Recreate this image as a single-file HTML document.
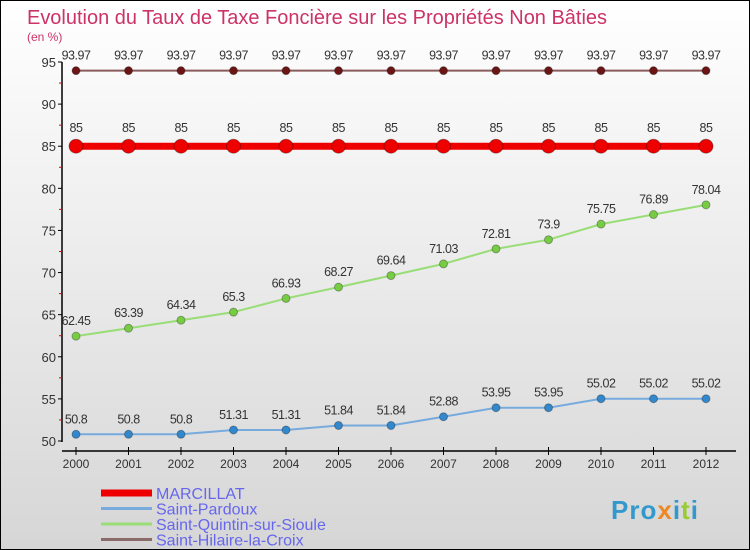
<!DOCTYPE html>
<html><head><meta charset="utf-8"><style>
body{margin:0}
#c{position:relative;width:750px;height:550px;box-sizing:border-box;border:1px solid #000;background:linear-gradient(#fff,#d6d6d6);font-family:"Liberation Sans",sans-serif;overflow:hidden}
svg{position:absolute;left:0;top:0}
</style></head><body>
<div id="c">
<svg id="s" width="750" height="550">
<text x="26" y="23" font-size="20" fill="#cc3366" textLength="580" lengthAdjust="spacingAndGlyphs">Evolution du Taux de Taxe Foncière sur les Propriétés Non Bâties</text>
<text x="26" y="40" font-size="12" fill="#cc3366">(en %)</text>
</svg>
</div>
<script>
const years=["2000","2001","2002","2003","2004","2005","2006","2007","2008","2009","2010","2011","2012"];
const yTicks=[50,55,60,65,70,75,80,85,90,95];
const marcillat=[85,85,85,85,85,85,85,85,85,85,85,85,85];
const pardoux=[50.8,50.8,50.8,51.31,51.31,51.84,51.84,52.88,53.95,53.95,55.02,55.02,55.02];
const quintin=[62.45,63.39,64.34,65.3,66.93,68.27,69.64,71.03,72.81,73.9,75.75,76.89,78.04];
const hilaire=[93.97,93.97,93.97,93.97,93.97,93.97,93.97,93.97,93.97,93.97,93.97,93.97,93.97];
const series=[
 {name:"Saint-Hilaire-la-Croix",v:hilaire,c:"#8b5a5a",p:"#6b1515",w:2,r:4},
 {name:"Saint-Quintin-sur-Sioule",v:quintin,c:"#99dd77",p:"#77cc44",w:2,r:4},
 {name:"Saint-Pardoux",v:pardoux,c:"#77aadd",p:"#3388cc",w:2,r:4},
 {name:"MARCILLAT",v:marcillat,c:"#ee0000",p:"#ee0000",w:7,r:7}
];
const ns="http://www.w3.org/2000/svg",s=document.getElementById('s');
const X=i=>75+52.5*i, Y=v=>440-(v-50)*379/45;
function mk(t,a,p){const e=document.createElementNS(ns,t);for(const k in a)e.setAttribute(k,a[k]);(p||s).appendChild(e);return e;}
let e=mk('line',{x1:61,y1:61,x2:61,y2:441,stroke:'#000','stroke-width':1.5});


e=mk('line',{x1:61,y1:450,x2:735,y2:450,stroke:'#000','stroke-width':1.5});


yTicks.forEach((v,i)=>{
 mk('line',{x1:57,y1:Y(v),x2:61,y2:Y(v),stroke:'#000'});
 if(i<yTicks.length-1)mk('line',{x1:58,y1:Y(v+2.5),x2:61,y2:Y(v+2.5),stroke:'#e00000'});
 const t=mk('text',{x:55,y:Y(v)+5,'font-size':13,'text-anchor':'end',fill:'#333'});t.textContent=v;
 
 
});
years.forEach((y,i)=>{
 mk('line',{x1:X(i),y1:446,x2:X(i),y2:454,stroke:'#000'});
 const t=mk('text',{x:X(i),y:467,'font-size':12,'text-anchor':'middle',fill:'#333'});t.textContent=y;
 
 
});
series.forEach(se=>{
 const l=mk('polyline',{points:se.v.map((v,i)=>X(i)+','+Y(v)).join(' '),fill:'none',stroke:se.c,'stroke-width':se.w});
 
 
 se.v.forEach((v,i)=>{
  const c=mk('circle',{cx:X(i),cy:Y(v),r:se.r,fill:se.p,stroke:'rgba(0,0,0,0.3)'});
  
  
  const t=mk('text',{x:X(i),y:Y(v)-(se.r+7),'font-size':12.5,'text-anchor':'middle',fill:'#333','letter-spacing':'-0.5'});
  t.textContent=v;
  
  
 });
});
const leg=[["MARCILLAT","#ee0000",7],["Saint-Pardoux","#77aadd",3],["Saint-Quintin-sur-Sioule","#99dd77",3],["Saint-Hilaire-la-Croix","#8b6a6a",3]];
leg.forEach((l,i)=>{
 const y=492+i*15.5;
 mk('line',{x1:100,y1:y,x2:151,y2:y,stroke:l[1],'stroke-width':l[2]});
 const t=mk('text',{x:155,y:y+6,'font-size':16,fill:'#6666ee'});t.textContent=l[0];
 
 
});
const lg=mk('text',{x:610,y:518,'font-size':26,'font-weight':'bold',fill:'#3399cc','letter-spacing':'1'});
lg.innerHTML='Pro<tspan fill="#ee8822">x</tspan>i<tspan fill="#99cc33">t</tspan>i';


</script>
</body></html>
